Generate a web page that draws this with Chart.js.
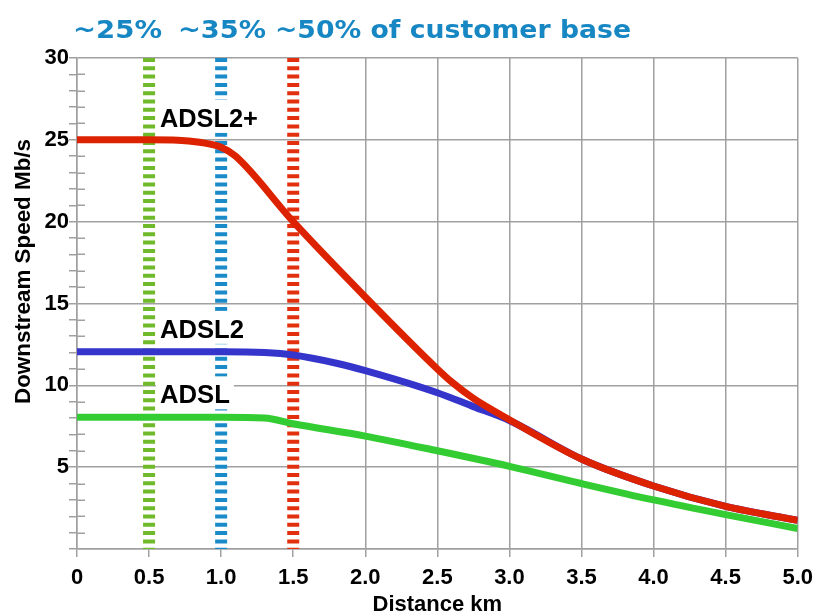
<!DOCTYPE html>
<html>
<head>
<meta charset="utf-8">
<script src="https://cdn.jsdelivr.net/npm/chart.js@4/dist/chart.umd.min.js"></script>
<style>
  html, body { margin: 0; padding: 0; background: #ffffff; }
  #wrap { width: 821px; height: 615px; }
</style>
</head>
<body>
<div id="wrap"><canvas id="c" width="821" height="615"></canvas></div>
<script>
// Downstream speed (Mb/s) against loop length (km)
const adsl2plusKm  = [0, 0.5, 0.7, 0.85, 1.0, 1.1, 1.5, 2.0, 2.5, 2.6, 2.75, 3.0, 3.5, 4.0, 4.5, 5.0];
const adsl2plusMbs = [25, 25, 24.98, 24.85, 24.55, 24.0, 20.0, 15.4, 11.0, 10.2, 9.2, 7.9, 5.5, 3.85, 2.6, 1.75];

const adsl2Km  = [0, 1.0, 1.3, 1.5, 1.8, 2.0, 2.5, 2.75, 3.0, 3.5, 4.0, 4.5, 5.0];
const adsl2Mbs = [12.05, 12.05, 12.0, 11.85, 11.35, 10.9, 9.55, 8.7, 7.85, 5.5, 3.85, 2.6, 1.75];

const adslKm  = [0, 1.0, 1.3, 1.5, 2.0, 2.5, 3.0, 3.5, 4.0, 4.5, 5.0];
const adslMbs = [8.05, 8.05, 8.0, 7.65, 6.9, 6.0, 5.05, 4.0, 3.0, 2.1, 1.25];

// Share of customers within each distance
const reachKm     = [0.5, 1.0, 1.5];
const reachLabels = ['~25%', '~35%', '~50% of customer base'];

const seriesNames = ['ADSL2+', 'ADSL2', 'ADSL'];
const xTickLabels = ['0', '0.5', '1.0', '1.5', '2.0', '2.5', '3.0', '3.5', '4.0', '4.5', '5.0'];
const yTickLabels = ['5', '10', '15', '20', '25', '30'];
const speedRange  = [0, 30];

const GRID = '#a0a0a0';
const SANS = '"Liberation Sans", Arial, sans-serif';

function pts(xs, ys) { return xs.map((x, i) => ({ x: x, y: ys[i] })); }

const reachColors = ['#70b92a', '#1a8ac9', '#e2300f'];
const reachSets = reachKm.map((k, i) => ({
  label: 'reach' + i,
  data: [{ x: k, y: speedRange[1] }, { x: k, y: speedRange[0] }],
  borderColor: reachColors[i],
  borderWidth: 12,
  borderDash: [4, 4.3],
  borderCapStyle: 'butt',
  pointRadius: 0,
  order: 10
}));

function curve(name, xs, ys, color, order) {
  return {
    label: name,
    data: pts(xs, ys),
    borderColor: color,
    borderWidth: 7,
    pointRadius: 0,
    cubicInterpolationMode: 'monotone',
    borderCapStyle: 'butt',
    order: order
  };
}

// draws text at x/baseline, stretched horizontally to a set width
function fitText(ctx, text, x, y, width, font, color) {
  ctx.save();
  ctx.font = font;
  ctx.fillStyle = color;
  ctx.textAlign = 'left';
  ctx.textBaseline = 'alphabetic';
  const w = ctx.measureText(text).width;
  ctx.translate(x, y);
  ctx.scale(width / w, 1);
  ctx.fillText(text, 0, 0);
  ctx.restore();
}

const decorations = {
  id: 'decorations',
  beforeDatasetsDraw(chart) {
    const { ctx, chartArea, scales: { y } } = chart;
    // inner half of the minor y ticks
    ctx.save();
    ctx.strokeStyle = GRID;
    ctx.lineWidth = 1.5;
    for (let v = 1; v < speedRange[1]; v++) {
      if (v % 5 === 0) continue;
      const py = Math.round(y.getPixelForValue(v)) + 0.25;
      ctx.beginPath();
      ctx.moveTo(chartArea.left, py);
      ctx.lineTo(chartArea.left + 8, py);
      ctx.stroke();
    }
    ctx.restore();
  },
  afterDatasetsDraw(chart) {
    const { ctx, scales: { x, y } } = chart;
    // series names on white boxes
    const names = [
      { t: seriesNames[0], v: 25.8, w: 98 },
      { t: seriesNames[1], v: 12.9, w: 84 },
      { t: seriesNames[2], v: 8.9,  w: 70 }
    ];
    names.forEach(n => {
      const px = x.getPixelForValue(0.575);
      const py = y.getPixelForValue(n.v);
      ctx.save();
      ctx.fillStyle = '#ffffff';
      ctx.fillRect(px - 4, py - 27, n.w + 8, 33);
      ctx.restore();
      fitText(ctx, n.t, px, py, n.w, 'bold 25px ' + SANS, '#000000');
    });
  },
  afterDraw(chart) {
    const { ctx } = chart;
    // headline
    const heads = [[73, 89], [178, 88], [275, 356]];
    reachLabels.forEach((t, i) => {
      fitText(ctx, t, heads[i][0], 38, heads[i][1], 'bold 25px "DejaVu Sans", Verdana, sans-serif', '#1787c4');
    });
    // y axis title
    ctx.save();
    ctx.translate(30, 272);
    ctx.rotate(-Math.PI / 2);
    fitText(ctx, 'Downstream Speed Mb/s', -132, 0, 265, 'bold 22px ' + SANS, '#000000');
    ctx.restore();
  }
};

new Chart(document.getElementById('c'), {
  type: 'line',
  data: {
    datasets: [
      curve(seriesNames[0], adsl2plusKm, adsl2plusMbs, '#dd2200', 1),
      curve(seriesNames[1], adsl2Km, adsl2Mbs, '#3535cc', 2),
      curve(seriesNames[2], adslKm, adslMbs, '#33cc33', 3),
      ...reachSets
    ]
  },
  options: {
    responsive: false,
    animation: false,
    events: [],
    layout: { padding: { top: 58, right: 23, left: 0, bottom: 0 } },
    plugins: { legend: { display: false }, tooltip: { enabled: false }, title: { display: false } },
    scales: {
      x: {
        type: 'linear',
        min: 0,
        max: 5,
        afterFit(s) { s.height = 66; },
        afterBuildTicks(s) { s.ticks = xTickLabels.map(t => ({ value: parseFloat(t) })); },
        ticks: {
          autoSkip: false,
          maxRotation: 0,
          padding: 8,
          color: '#000000',
          font: { family: SANS, size: 22, weight: 'bold' },
          callback: (v, i) => xTickLabels[i]
        },
        grid: {
          // no grid line behind the dashed reach markers
          color: c => (c.tick && reachKm.includes(c.tick.value) ? 'rgba(0,0,0,0)' : GRID),
          lineWidth: 1.5,
          tickLength: 8,
          tickColor: GRID,
          tickWidth: 1.5
        },
        border: { display: true, color: GRID, width: 1.5 },
        title: {
          display: true,
          text: 'Distance km',
          color: '#000000',
          font: { family: SANS, size: 22, weight: 'bold', lineHeight: 1 },
          padding: { top: 0, bottom: -1 }
        }
      },
      y: {
        type: 'linear',
        min: speedRange[0],
        max: speedRange[1],
        afterFit(s) { s.width = 77; },
        ticks: {
          stepSize: 1,
          autoSkip: false,
          padding: 0,
          color: '#000000',
          font: { family: SANS, size: 22, weight: 'bold' },
          callback: v => (yTickLabels.includes(String(v)) ? String(v) : '')
        },
        grid: {
          color: c => (c.tick && c.tick.value % 5 === 0 ? GRID : 'rgba(0,0,0,0)'),
          lineWidth: 1.5,
          tickLength: 8,
          tickColor: GRID,
          tickWidth: 1.5
        },
        border: { display: true, color: GRID, width: 1.5 }
      }
    }
  },
  plugins: [decorations]
});
</script>
</body>
</html>
